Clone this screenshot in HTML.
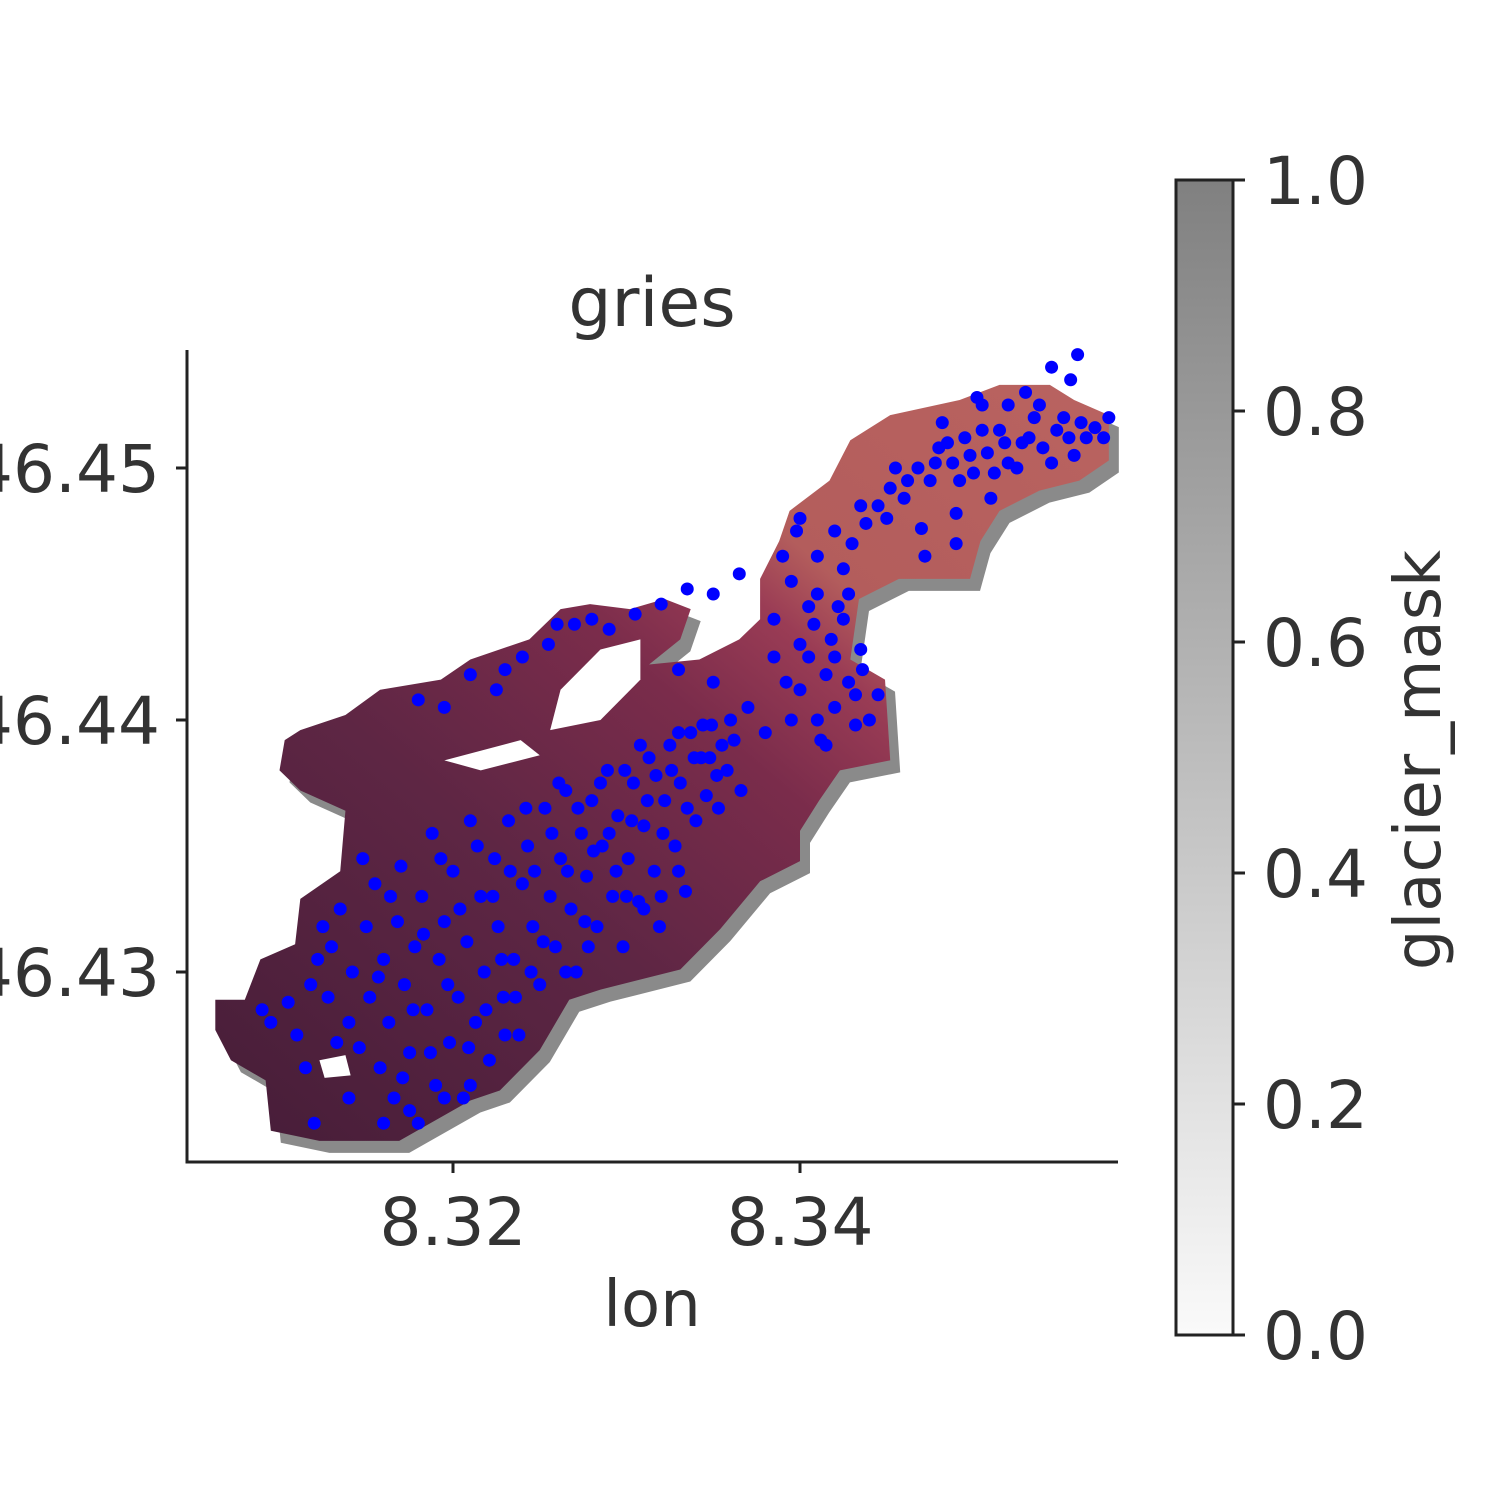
<!DOCTYPE html>
<html><head><meta charset="utf-8"><style>
body{margin:0;background:#fff;width:1500px;height:1500px;overflow:hidden}
svg{display:block}
text{font-family:"DejaVu Sans","Liberation Sans",sans-serif;fill:#333}
</style></head><body>
<svg id="chart" width="1500" height="1500">
<defs>
<linearGradient id="glg" x1="0" y1="1" x2="1" y2="0">
<stop offset="0" stop-color="#461d38"/><stop offset="0.35" stop-color="#5e2644"/>
<stop offset="0.55" stop-color="#7a2c4b"/><stop offset="0.66" stop-color="#9a3c55"/><stop offset="0.72" stop-color="#b35d5c"/><stop offset="1" stop-color="#b96360"/>
</linearGradient>
<linearGradient id="cbg" x1="0" y1="1" x2="0" y2="0">
<stop offset="0" stop-color="#fafafa"/><stop offset="1" stop-color="#808080"/>
</linearGradient>
</defs>
<g id="plot"></g>
<text x="652" y="326" font-size="68" text-anchor="middle">gries</text>
<text x="652" y="1326" font-size="64" text-anchor="middle">lon</text>
<rect x="1176" y="180" width="57" height="1155" fill="url(#cbg)" stroke="#222" stroke-width="3"/>
<g id="cbticks"></g>
<text transform="translate(1440,760) rotate(-90)" font-size="64" text-anchor="middle">glacier_mask</text>
</svg>
<script>
const outlineLon=[8.3063,8.3080,8.3089,8.3109,8.3112,8.3135,8.3138,8.3112,8.3100,8.3103,8.3112,8.3138,8.3158,8.3193,8.3210,8.3244,8.3262,8.3279,8.3302,8.3322,8.3337,8.3331,8.3313,8.3342,8.3365,8.3377,8.3377,8.3388,8.3394,8.3417,8.3429,8.3452,8.3492,8.3515,8.3544,8.3558,8.3578,8.3578,8.3561,8.3538,8.3515,8.3504,8.3498,8.3457,8.3434,8.3429,8.3449,8.3452,8.3423,8.3411,8.3400,8.3400,8.3377,8.3354,8.3331,8.3285,8.3267,8.3250,8.3227,8.3210,8.3169,8.3123,8.3095,8.3092,8.3072,8.3063];
const outlineLat=[46.4289,46.4289,46.4305,46.4311,46.4329,46.4340,46.4364,46.4372,46.4380,46.4392,46.4396,46.4402,46.4412,46.4416,46.4424,46.4432,46.4444,46.4446,46.4444,46.4448,46.4444,46.4432,46.4422,46.4424,46.4432,46.4440,46.4456,46.4471,46.4483,46.4495,46.4511,46.4521,46.4527,46.4533,46.4533,46.4527,46.4521,46.4503,46.4495,46.4491,46.4483,46.4471,46.4456,46.4456,46.4448,46.4424,46.4416,46.4384,46.4380,46.4368,46.4356,46.4344,46.4336,46.4317,46.4301,46.4293,46.4289,46.4269,46.4253,46.4249,46.4233,46.4233,46.4237,46.4257,46.4265,46.4277];
const holes=[
[[8.3262,46.4412],[8.3285,46.4428],[8.3308,46.4432],[8.3308,46.4416],[8.3285,46.4400],[8.3256,46.4396]],
[[8.3195,46.4384],[8.3239,46.4392],[8.3250,46.4386],[8.3216,46.4380]],
[[8.3123,46.4265],[8.3138,46.4267],[8.3141,46.4259],[8.3126,46.4258]]];
const bluePoints=[[8.3090,46.4285],[8.3095,46.4280],[8.3105,46.4288],[8.3110,46.4275],[8.3118,46.4295],[8.3122,46.4305],[8.3128,46.4290],[8.3130,46.4310],[8.3135,46.4325],[8.3140,46.4280],[8.3142,46.4300],[8.3146,46.4270],[8.3150,46.4318],[8.3152,46.4290],[8.3155,46.4335],[8.3158,46.4262],[8.3160,46.4305],[8.3163,46.4280],[8.3166,46.4250],[8.3168,46.4320],[8.3170,46.4342],[8.3172,46.4295],[8.3175,46.4268],[8.3178,46.4310],[8.3180,46.4240],[8.3182,46.4330],[8.3185,46.4285],[8.3188,46.4355],[8.3190,46.4255],[8.3192,46.4305],[8.3195,46.4320],[8.3198,46.4272],[8.3200,46.4340],[8.3203,46.4290],[8.3206,46.4250],[8.3208,46.4312],[8.3210,46.4360],[8.3213,46.4280],[8.3216,46.4330],[8.3218,46.4300],[8.3221,46.4265],[8.3224,46.4345],[8.3226,46.4318],[8.3229,46.4290],[8.3232,46.4360],[8.3235,46.4305],[8.3238,46.4275],[8.3240,46.4335],[8.3243,46.4350],[8.3246,46.4318],[8.3250,46.4295],[8.3253,46.4365],[8.3256,46.4330],[8.3259,46.4310],[8.3262,46.4345],[8.3265,46.4372],[8.3268,46.4325],[8.3271,46.4300],[8.3274,46.4355],[8.3277,46.4338],[8.3280,46.4368],[8.3283,46.4318],[8.3286,46.4350],[8.3289,46.4380],[8.3292,46.4330],[8.3295,46.4362],[8.3298,46.4310],[8.3301,46.4345],[8.3304,46.4375],[8.3307,46.4328],[8.3310,46.4358],[8.3313,46.4385],[8.3316,46.4340],[8.3319,46.4318],[8.3322,46.4368],[8.3325,46.4390],[8.3328,46.4350],[8.3331,46.4375],[8.3334,46.4332],[8.3337,46.4395],[8.3340,46.4360],[8.3343,46.4385],[8.3346,46.4370],[8.3349,46.4398],[8.3352,46.4378],[8.3355,46.4390],
[8.3195,46.4405],[8.3210,46.4418],[8.3225,46.4412],[8.3240,46.4425],[8.3255,46.4430],[8.3270,46.4438],[8.3290,46.4436],[8.3305,46.4442],[8.3320,46.4446],[8.3335,46.4452],[8.3350,46.4450],[8.3365,46.4458],[8.3370,46.4405],[8.3380,46.4395],
[8.3395,46.4400],[8.3400,46.4412],[8.3405,46.4425],[8.3408,46.4438],[8.3410,46.4450],[8.3412,46.4392],[8.3415,46.4418],[8.3418,46.4432],[8.3420,46.4405],[8.3422,46.4445],[8.3425,46.4460],[8.3428,46.4415],[8.3430,46.4470],[8.3432,46.4398],[8.3435,46.4428],[8.3438,46.4478],[8.3390,46.4465],[8.3398,46.4475],[8.3385,46.4440],[8.3445,46.4410],
[8.3445,46.4485],[8.3452,46.4492],[8.3460,46.4488],[8.3468,46.4500],[8.3475,46.4495],[8.3480,46.4508],[8.3488,46.4502],[8.3495,46.4512],[8.3500,46.4498],[8.3508,46.4506],[8.3515,46.4515],[8.3520,46.4502],[8.3528,46.4510],[8.3535,46.4520],[8.3540,46.4508],[8.3548,46.4515],[8.3555,46.4512],[8.3562,46.4518],[8.3570,46.4516],[8.3578,46.4520],[8.3510,46.4488],[8.3490,46.4482],[8.3530,46.4530],[8.3545,46.4540],[8.3560,46.4545],[8.3502,46.4528],[8.3470,46.4476],
[8.3115,46.4262],[8.3125,46.4318],[8.3133,46.4272],[8.3148,46.4345],[8.3157,46.4298],[8.3164,46.4330],[8.3171,46.4258],[8.3177,46.4285],[8.3183,46.4315],[8.3187,46.4268],[8.3193,46.4345],[8.3197,46.4295],[8.3204,46.4325],[8.3209,46.4270],[8.3214,46.4350],[8.3219,46.4285],[8.3223,46.4330],[8.3228,46.4305],[8.3233,46.4340],[8.3236,46.4290],[8.3242,46.4365],[8.3247,46.4340],[8.3252,46.4312],[8.3257,46.4355],[8.3261,46.4375],[8.3266,46.4340],[8.3272,46.4365],[8.3276,46.4320],[8.3281,46.4348],[8.3285,46.4375],[8.3290,46.4355],[8.3294,46.4340],[8.3299,46.4380],[8.3303,46.4360],[8.3308,46.4390],[8.3312,46.4368],[8.3317,46.4378],[8.3321,46.4355],[8.3326,46.4380],[8.3330,46.4395],[8.3335,46.4365],[8.3339,46.4385],[8.3344,46.4398],[8.3348,46.4385],[8.3353,46.4365],[8.3358,46.4380],[8.3362,46.4392],[8.3366,46.4372],[8.3330,46.4340],[8.3320,46.4330],[8.3310,46.4325],[8.3300,46.4330],[8.3278,46.4310],[8.3265,46.4300],[8.3245,46.4300],[8.3230,46.4275],[8.3210,46.4255],[8.3195,46.4250],[8.3175,46.4245],[8.3160,46.4240],[8.3140,46.4250],[8.3120,46.4240],
[8.3400,46.4430],[8.3405,46.4445],[8.3410,46.4400],[8.3415,46.4390],[8.3420,46.4425],[8.3425,46.4440],[8.3428,46.4450],[8.3432,46.4410],[8.3436,46.4420],[8.3440,46.4400],[8.3395,46.4455],[8.3410,46.4465],[8.3420,46.4475],[8.3435,46.4485],[8.3450,46.4480],[8.3400,46.4480],[8.3392,46.4415],[8.3385,46.4425],
[8.3455,46.4500],[8.3462,46.4495],[8.3478,46.4502],[8.3485,46.4510],[8.3492,46.4495],[8.3498,46.4505],[8.3505,46.4515],[8.3512,46.4498],[8.3518,46.4510],[8.3525,46.4500],[8.3532,46.4512],[8.3538,46.4525],[8.3545,46.4502],[8.3552,46.4520],[8.3558,46.4505],[8.3565,46.4512],[8.3575,46.4512],[8.3482,46.4518],[8.3505,46.4525],[8.3520,46.4525],[8.3556,46.4535],[8.3490,46.4470],[8.3472,46.4465],
[8.3180,46.4408],[8.3230,46.4420],[8.3260,46.4438],[8.3280,46.4440],[8.3330,46.4420],[8.3350,46.4415],[8.3360,46.4400]];
const xTicks=[8.32,8.34];
const yTicks=[46.43,46.44,46.45];
const cbTicks=[0.0,0.2,0.4,0.6,0.8,1.0];

const NS='http://www.w3.org/2000/svg';
const X=v=>453+(v-8.32)*17350;
const Y=v=>468-(v-46.45)*25200;
const CB=v=>1335-v*1155;
const plot=document.getElementById('plot');
function mk(tag,attrs,parent){const e=document.createElementNS(NS,tag);for(const k in attrs)e.setAttribute(k,attrs[k]);parent.appendChild(e);return e;}
const pts=outlineLon.map((l,i)=>X(l)+','+Y(outlineLat[i])).join(' ');
const shadowPts=outlineLon.map((l,i)=>(X(l)+10)+','+(Y(outlineLat[i])+12)).join(' ');
let sh=mk('polygon',{points:shadowPts,fill:'#8a8a8a'},plot);


let gl=mk('polygon',{points:pts,fill:'url(#glg)'},plot);


holes.forEach(h=>{let p=mk('polygon',{points:h.map(q=>X(q[0])+','+Y(q[1])).join(' '),fill:'#fff'},plot);

});
bluePoints.forEach(q=>{let c=mk('circle',{cx:X(q[0]),cy:Y(q[1]),r:6.5,fill:'#0000ff'},plot);

});
let ax=mk('path',{d:'M187,350 V1162 H1118',fill:'none',stroke:'#222','stroke-width':3},plot);


xTicks.forEach(t=>{mk('line',{x1:X(t),x2:X(t),y1:1162,y2:1173,stroke:'#222','stroke-width':3},plot);
let tx=mk('text',{x:X(t),y:1245,'font-size':66,'text-anchor':'middle'},plot);tx.textContent=t.toFixed(2);

});
yTicks.forEach(t=>{mk('line',{x1:176,x2:187,y1:Y(t),y2:Y(t),stroke:'#222','stroke-width':3},plot);
let tx=mk('text',{x:160,y:Y(t)+24,'font-size':66,'text-anchor':'end'},plot);tx.textContent=t.toFixed(2);

});
const cbg=document.getElementById('cbticks');
cbTicks.forEach(t=>{mk('line',{x1:1233,x2:1245,y1:CB(t),y2:CB(t),stroke:'#222','stroke-width':3},cbg);
let tx=mk('text',{x:1263,y:CB(t)+24,'font-size':66},cbg);tx.textContent=t.toFixed(1);

});
</script>
</body></html>
